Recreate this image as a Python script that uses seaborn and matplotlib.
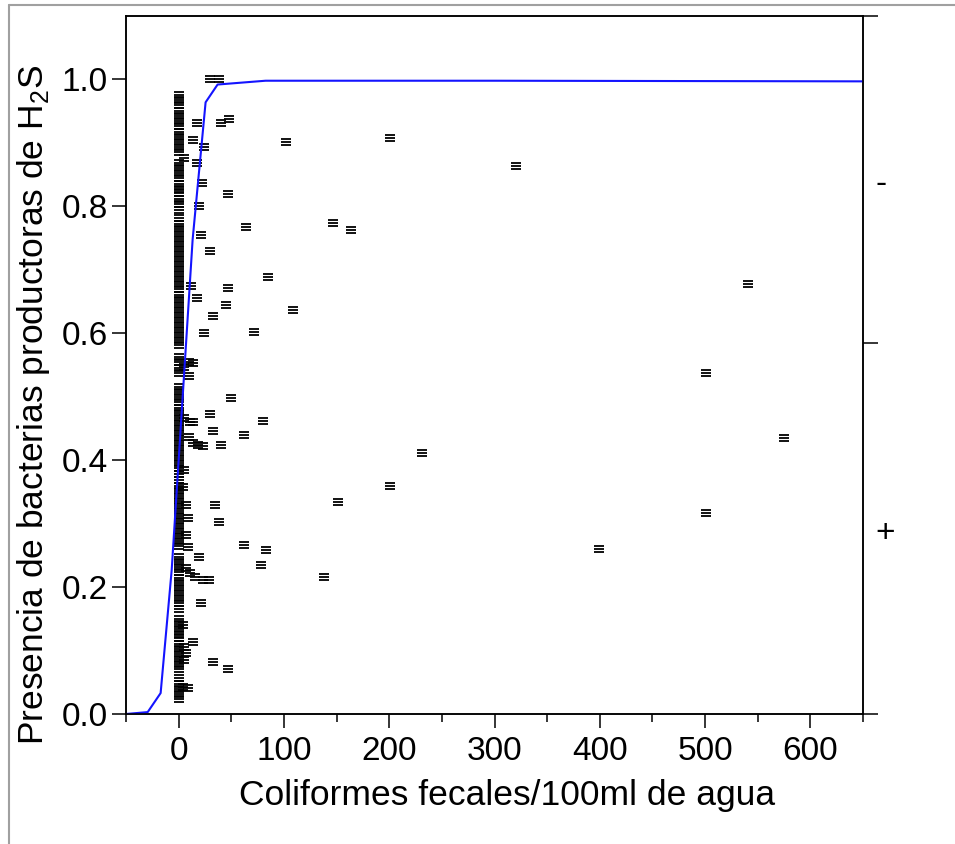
import numpy as np
import pandas as pd
import matplotlib
matplotlib.use("Agg")
import matplotlib.pyplot as plt
from matplotlib.path import Path
from matplotlib.lines import Line2D
import seaborn as sns

# --- data ---
# dense column of samples at ~0 coliforms
col_y = [0.975, 0.967, 0.959, 0.951, 0.943, 0.935, 0.927,
         0.917, 0.909, 0.901, 0.893, 0.886,
         0.868, 0.860, 0.852, 0.844, 0.836, 0.828, 0.821,
         0.812, 0.803, 0.795, 0.781, 0.772,
         0.765, 0.757, 0.749, 0.741, 0.733, 0.725, 0.717, 0.709, 0.701, 0.693,
         0.685, 0.677, 0.669, 0.661, 0.653, 0.645, 0.637, 0.629, 0.621, 0.613,
         0.605, 0.597, 0.589, 0.581,
         0.562, 0.554, 0.546, 0.537,
         0.515, 0.507, 0.499, 0.491, 0.483, 0.475, 0.467, 0.459, 0.451, 0.443,
         0.435, 0.427, 0.419, 0.411, 0.403, 0.395, 0.387, 0.379,
         0.368, 0.360, 0.352, 0.344, 0.336, 0.328, 0.320, 0.312, 0.304, 0.296,
         0.288, 0.280, 0.272, 0.264,
         0.247, 0.239, 0.231, 0.223, 0.215, 0.207, 0.199, 0.191,
         0.183, 0.175, 0.166, 0.150, 0.142, 0.134, 0.126,
         0.119, 0.111, 0.103, 0.095, 0.087, 0.079, 0.071,
         0.056, 0.048, 0.040, 0.032, 0.024]

# samples just right of the column
near_x = [5, 14, 17, 17, 22, 19, 21, 24,
          11.4, 17, 5, 9.5, 14, 9.5,
          5, 11, 14, 9.5, 14, 18, 23, 5, 4, 6.6, 8.5, 6.6, 8.5,
          19, 6.6, 11, 16, 23, 28.5, 21, 4, 14, 5, 7, 5, 4, 8.5]
near_y = [0.877, 0.904, 0.932, 0.869, 0.837, 0.800, 0.755, 0.894,
          0.674, 0.656, 0.547, 0.554, 0.553, 0.532,
          0.467, 0.460, 0.460, 0.437, 0.427, 0.424, 0.423, 0.385, 0.358, 0.330, 0.309, 0.282, 0.263,
          0.248, 0.230, 0.222, 0.216, 0.211, 0.211, 0.175, 0.140, 0.114, 0.106, 0.096, 0.085, 0.043, 0.041]

# scattered samples
far_x = [30, 38, 40, 47.5, 46.5, 101.6, 201, 320, 147, 164, 64, 30, 84.5, 46.5,
         44.6, 33, 109, 541, 72, 24, 50, 501, 80, 30, 33, 40, 62, 231, 575, 201,
         151, 35, 38, 501, 62, 82.6, 78, 138, 399, 33, 47]
far_y = [1.0, 1.0, 0.932, 0.938, 0.820, 0.902, 0.907, 0.864, 0.774, 0.762, 0.767, 0.729, 0.688, 0.672,
         0.645, 0.628, 0.637, 0.678, 0.602, 0.601, 0.498, 0.538, 0.462, 0.472, 0.446, 0.424, 0.440, 0.412, 0.435, 0.360,
         0.334, 0.330, 0.303, 0.317, 0.267, 0.259, 0.235, 0.216, 0.260, 0.082, 0.071]

# fitted logistic curve
curve_x = [-50, -29.4, -17.1, -6.6, 13.3, 25.6, 37, 82.6, 300, 650]
curve_y = [0.0, 0.003, 0.033, 0.227, 0.748, 0.964, 0.992, 0.998, 0.998, 0.997]

x_ticks = [0, 100, 200, 300, 400, 500, 600]
y_ticks = [0.0, 0.2, 0.4, 0.6, 0.8, 1.0]
cat_labels = ["+", "-"]
cat_centers = [0.29, 0.84]
cat_bounds = [0.0, 0.585, 1.1]

points = pd.DataFrame({
    "x": [0] * len(col_y) + near_x + far_x,
    "y": col_y + near_y + far_y,
})
curve = pd.DataFrame({"x": curve_x, "y": curve_y})

# --- style ---
sns.set_theme(style="ticks")
plt.rcParams["font.family"] = ["Liberation Sans", "DejaVu Sans"]
plt.rcParams["mathtext.fontset"] = "custom"
plt.rcParams["mathtext.rm"] = "Liberation Sans"
for key in ["text.color", "axes.labelcolor", "xtick.color", "ytick.color", "axes.edgecolor"]:
    plt.rcParams[key] = "black"

# "≡"-like marker
verts = [(-1, -0.5), (1, -0.5), (-1, 0), (1, 0), (-1, 0.5), (1, 0.5)]
codes = [Path.MOVETO, Path.LINETO] * 3
eq_marker = Path(verts, codes)

fig = plt.figure(figsize=(9.55, 8.44), dpi=100)
ax = fig.add_axes([126 / 955, 130 / 844, 737 / 955, 698 / 844])

sns.scatterplot(data=points, x="x", y="y", marker=eq_marker, s=55,
                color="black", edgecolor="black", linewidth=1.3, ax=ax, zorder=3)
sns.lineplot(data=curve, x="x", y="y", sort=False, color="#1414ff", linewidth=1.5,
             ax=ax, zorder=4)

ax.set_xlim(-50, 650)
ax.set_ylim(0, 1.1)
ax.set_xticks(x_ticks)
ax.set_xticks(np.arange(-50, 651, 100), minor=True)
ax.set_yticks(y_ticks)
ax.set_yticklabels([f"{v:.1f}" for v in y_ticks])
ax.tick_params(axis="both", which="major", labelsize=24, width=1.1, length=10)
ax.tick_params(axis="x", which="minor", width=1.1, length=6)
ax.tick_params(axis="x", which="major", pad=6)
ax.tick_params(axis="y", which="major", pad=3)
for sp in ax.spines.values():
    sp.set_linewidth(1.1)

ax.set_xlabel("Coliformes fecales/100ml de agua", fontsize=25.5)
ax.set_ylabel("Presencia de bacterias productoras de H$_2$S", fontsize=25.5)
ax.xaxis.set_label_coords(0.517, -0.093)
ax.yaxis.set_label_coords(-0.100, 0.443)

ax2 = ax.twinx()
ax2.set_ylim(0, 1.1)
ax2.set_yticks(cat_bounds)
ax2.set_yticklabels([])
ax2.set_yticks(cat_centers, minor=True)
ax2.set_yticklabels(cat_labels, minor=True, fontsize=24)
ax2.tick_params(axis="y", which="major", length=11, width=1.1)
ax2.tick_params(axis="y", which="minor", length=0, pad=9)
for sp in ax2.spines.values():
    sp.set_linewidth(1.1)

# thin grey frame of the report window
fig.add_artist(Line2D([9 / 955, 9 / 955], [0, 1 - 5 / 844], color="#a0a0a0", lw=1.5,
                      transform=fig.transFigure))
fig.add_artist(Line2D([9 / 955, 1], [1 - 5 / 844, 1 - 5 / 844], color="#a0a0a0", lw=1.5,
                      transform=fig.transFigure))

fig.savefig("out.png", dpi=100)
